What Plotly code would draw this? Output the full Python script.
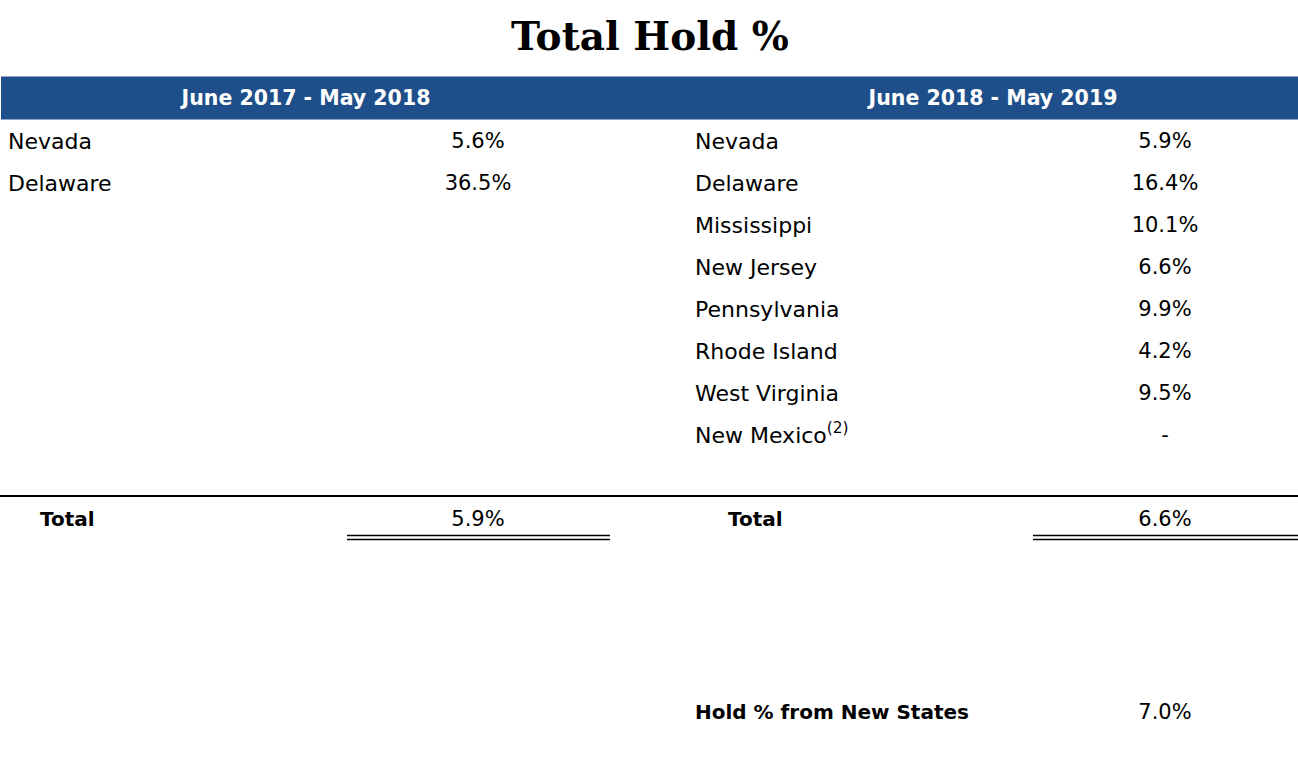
import plotly.graph_objects as go

title = "Total Hold %"
periods = ["June 2017 - May 2018", "June 2018 - May 2019"]
left_states = ["Nevada", "Delaware"]
left_values = ["5.6%", "36.5%"]
right_states = ["Nevada", "Delaware", "Mississippi", "New Jersey", "Pennsylvania",
                "Rhode Island", "West Virginia", "New Mexico<sup>(2)</sup>"]
right_values = ["5.9%", "16.4%", "10.1%", "6.6%", "9.9%", "4.2%", "9.5%", "-"]
total_label = "Total"
totals = ["5.9%", "6.6%"]
new_states_label = "Hold % from New States"
new_states_value = "7.0%"

W, H = 1298, 774
BODY = "DejaVu Sans"
row_y0, row_dy = 143, 42

fig = go.Figure()

# header bar
fig.add_shape(type="rect", x0=1, x1=W, y0=76.5, y1=119.5, fillcolor="#1F4F8B", line_width=0, layer="below")
fig.add_trace(go.Scatter(x=[306, 993], y=[100, 100], mode="text", text=periods,
                         textposition="middle center",
                         textfont=dict(family=BODY, size=20.5, color="white", weight="bold")))

# left table
ly = [row_y0 + i * row_dy for i in range(len(left_states))]
fig.add_trace(go.Scatter(x=[8] * len(left_states), y=ly, mode="text", text=left_states,
                         textposition="middle right", textfont=dict(family=BODY, size=22, color="black")))
fig.add_trace(go.Scatter(x=[478] * len(left_values), y=ly, mode="text", text=left_values,
                         textposition="middle center", textfont=dict(family=BODY, size=21, color="black")))

# right table
ry = [row_y0 + i * row_dy for i in range(len(right_states))]
fig.add_trace(go.Scatter(x=[695] * len(right_states), y=ry, mode="text", text=right_states,
                         textposition="middle right", textfont=dict(family=BODY, size=22, color="black")))
fig.add_trace(go.Scatter(x=[1165] * len(right_values), y=ry, mode="text", text=right_values,
                         textposition="middle center", textfont=dict(family=BODY, size=21, color="black")))

# totals
fig.add_shape(type="line", x0=0, x1=W, y0=496, y1=496, line=dict(color="black", width=2))
fig.add_trace(go.Scatter(x=[40, 728], y=[521, 521], mode="text", text=[total_label, total_label],
                         textposition="middle right",
                         textfont=dict(family=BODY, size=20, color="black", weight="bold")))
fig.add_trace(go.Scatter(x=[478, 1165], y=[521, 521], mode="text", text=totals,
                         textposition="middle center", textfont=dict(family=BODY, size=21, color="black")))
for x0, x1 in [(347, 610), (1033, W)]:
    for yy in (535.5, 539.5):
        fig.add_shape(type="line", x0=x0, x1=x1, y0=yy, y1=yy, line=dict(color="black", width=1.5))

# new states
fig.add_trace(go.Scatter(x=[695], y=[714], mode="text", text=[new_states_label],
                         textposition="middle right",
                         textfont=dict(family=BODY, size=20, color="black", weight="bold")))
fig.add_trace(go.Scatter(x=[1165], y=[714], mode="text", text=[new_states_value],
                         textposition="middle center", textfont=dict(family=BODY, size=21, color="black")))

# title
fig.add_trace(go.Scatter(x=[650], y=[40], mode="text", text=[title], textposition="middle center",
                         textfont=dict(family="DejaVu Serif", size=39, color="black", weight="bold")))

fig.update_layout(
    width=W, height=H, margin=dict(l=0, r=0, t=0, b=0),
    paper_bgcolor="white", plot_bgcolor="white", showlegend=False, hovermode=False,
    xaxis=dict(range=[0, W], visible=False, fixedrange=True),
    yaxis=dict(range=[H, 0], visible=False, fixedrange=True),
)
fig.write_html("out.html", config={"displayModeBar": False, "staticPlot": True},
               post_script="document.body.style.margin='0';document.body.style.overflow='hidden';")
